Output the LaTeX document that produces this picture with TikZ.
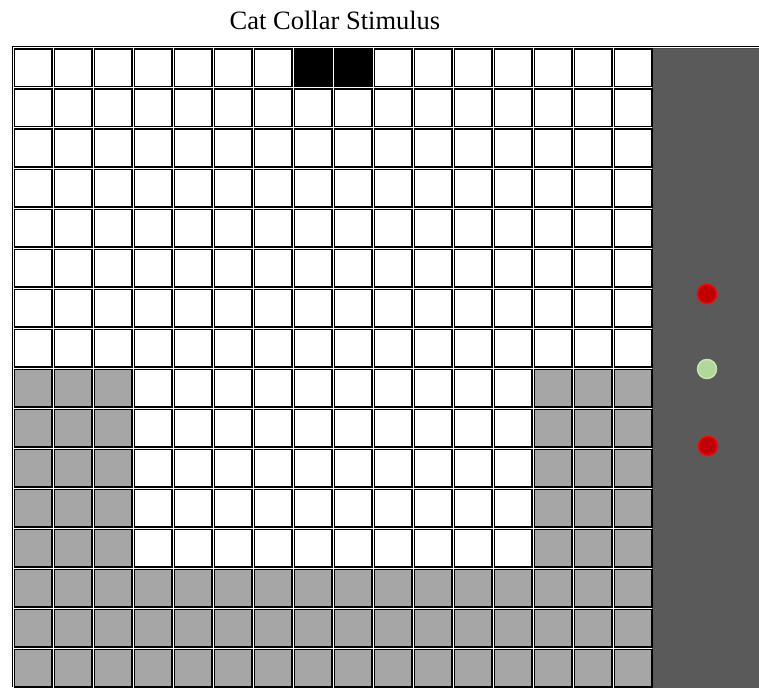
\documentclass[tikz,border=0pt]{standalone}
\usepackage{fontspec}
\setmainfont{Liberation Serif}
\usetikzlibrary{positioning}
\definecolor{cellgray}{HTML}{A6A6A6}
\definecolor{panelgray}{HTML}{5A5A5A}
\definecolor{ledred}{HTML}{C00000}
\definecolor{ledrim}{HTML}{FF0000}
\definecolor{ledgreen}{HTML}{B3D79A}
\definecolor{greenrim}{HTML}{C8E4B4}

\begin{document}
\begin{tikzpicture}[
  x=1pt, y=-1pt,
  cell/.style={draw=black, line width=1.5pt, minimum size=37.5pt, inner sep=0pt, outer sep=0pt},
  panel/.style={fill=panelgray, draw=black!70, line width=0.8pt},
  led/.style={circle, minimum size=19pt, inner sep=0pt, line width=1.5pt},
  title/.style={font=\fontsize{26.5}{30}\selectfont}
]
\useasboundingbox (0,0) rectangle (759,687);
% title
\node[title] (head) at (335,20) {Cat Collar Stimulus};
% outer frame
\draw[line width=1pt] (12,687) -- (12,46.5) -- (759,46.5);
% right side panel
\path[panel] (652,48) rectangle (760,688);
% stimulus grid: 16 x 16
\foreach \r in {0,...,15}{
  \foreach \c in {0,...,15}{
    \def\cellfill{white}
    \ifnum\r=0 \ifnum\c>6 \ifnum\c<9 \def\cellfill{black}\fi\fi\fi
    \ifnum\r>7 \ifnum\c<3 \def\cellfill{cellgray}\fi \ifnum\c>12 \def\cellfill{cellgray}\fi\fi
    \ifnum\r>12 \def\cellfill{cellgray}\fi
    \node[cell, fill=\cellfill] (c\r-\c) at ({33+40*\c},{68+40*\r}) {};
  }
}
% indicator lights
\node[led, fill=ledred, draw=ledrim]     (top)    at (707,294) {};
\node[led, fill=ledgreen, draw=greenrim] (middle) at (707,369) {};
\node[led, fill=ledred, draw=ledrim]     (bottom) at (708,446) {};
\end{tikzpicture}
\end{document}
